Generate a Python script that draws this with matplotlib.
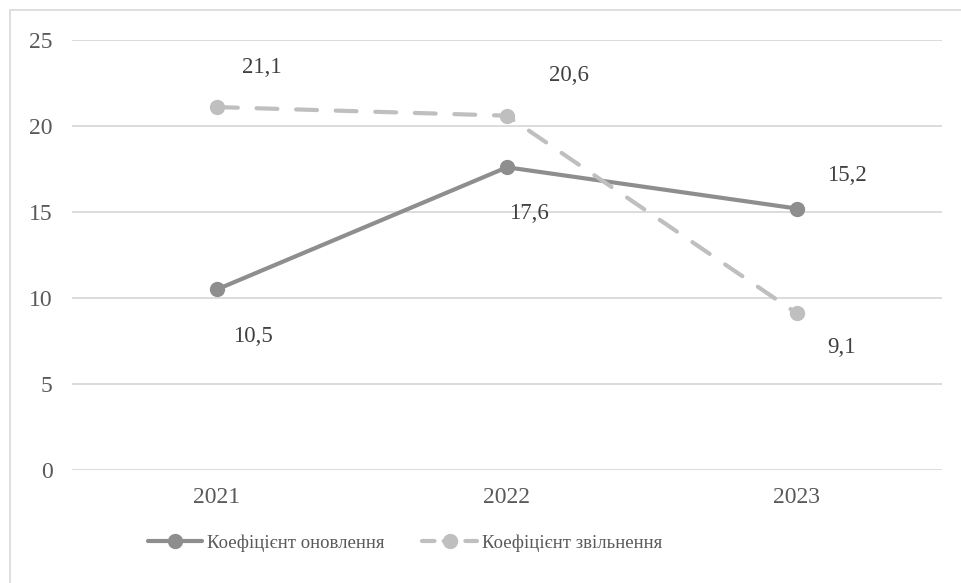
import matplotlib
matplotlib.use("Agg")
import matplotlib.pyplot as plt
from matplotlib.lines import Line2D
from matplotlib.patches import Rectangle

plt.rcParams['font.family'] = ['Liberation Serif', 'DejaVu Serif']

years = ['2021', '2022', '2023']
renewal = [10.5, 17.6, 15.2]      # Коефіцієнт оновлення
retirement = [21.1, 20.6, 9.1]    # Коефіцієнт звільнення
renewal_labels = ['10,5', '17,6', '15,2']
retirement_labels = ['21,1', '20,6', '9,1']
yticks = [0, 5, 10, 15, 20, 25]

# label offsets in pixels (dx, dy)
renewal_offsets = [(36, -47), (22, -46), (50, 33)]
retirement_offsets = [(45, 40), (62, 40), (45, -34)]

c_solid = '#8e8e8e'
c_dash = '#bfbfbf'
c_text = '#595959'
c_grid = '#d9d9d9'

W, H = 961, 583
fig = plt.figure(figsize=(W / 100, H / 100), dpi=100)

# chart frame
fig.patches.append(Rectangle((10 / W, -0.05), 1.1, 1 - 10 / H + 0.05,
                             transform=fig.transFigure, fill=False,
                             edgecolor=c_grid, linewidth=1.2))

ax = fig.add_axes([72 / W, 1 - 470 / H, 870 / W, 430 / H])
x = list(range(len(years)))

ax.plot(x, renewal, color=c_solid, linewidth=3, marker='o', markersize=10,
        solid_capstyle='round', clip_on=False, zorder=3)
ax.plot(x, retirement, color=c_dash, linewidth=3, marker='o', markersize=10,
        linestyle=(0, (5, 4.5)), dash_capstyle='round', clip_on=False, zorder=3)

for xi, v, lab, off in zip(x, renewal, renewal_labels, renewal_offsets):
    ax.annotate(lab, (xi, v), xytext=off, textcoords='offset pixels',
                ha='center', va='center', fontsize=16.5, color='#404040')
for xi, v, lab, off in zip(x, retirement, retirement_labels, retirement_offsets):
    ax.annotate(lab, (xi, v), xytext=off, textcoords='offset pixels',
                ha='center', va='center', fontsize=16.5, color='#404040')

ax.set_xlim(-0.5, len(years) - 0.5)
ax.set_ylim(0, 25)
ax.set_xticks(x)
ax.set_xticklabels(years)
ax.set_yticks(yticks)
ax.set_yticklabels([str(t) for t in yticks])
ax.tick_params(axis='both', length=0, labelsize=17, labelcolor=c_text)
ax.tick_params(axis='y', pad=14)
ax.tick_params(axis='x', pad=12)
ax.grid(axis='y', color=c_grid, linewidth=1.3)
ax.set_axisbelow(True)
for s in ax.spines.values():
    s.set_visible(False)

handles = [
    Line2D([], [], color=c_solid, linewidth=3, marker='o', markersize=10,
           solid_capstyle='round'),
    Line2D([], [], color=c_dash, linewidth=3, marker='o', markersize=10,
           linestyle=(0, (3, 2.2)), dash_capstyle='round'),
]
fig.legend(handles, ['Коефіцієнт оновлення', 'Коефіцієнт звільнення'],
           loc='center', bbox_to_anchor=(405 / W, 1 - 543 / H), ncol=2,
           frameon=False, fontsize=13.5, labelcolor=c_text, handlelength=2.9,
           handletextpad=0.28, columnspacing=2.0, borderpad=0)

fig.savefig('out.png', dpi=100)
